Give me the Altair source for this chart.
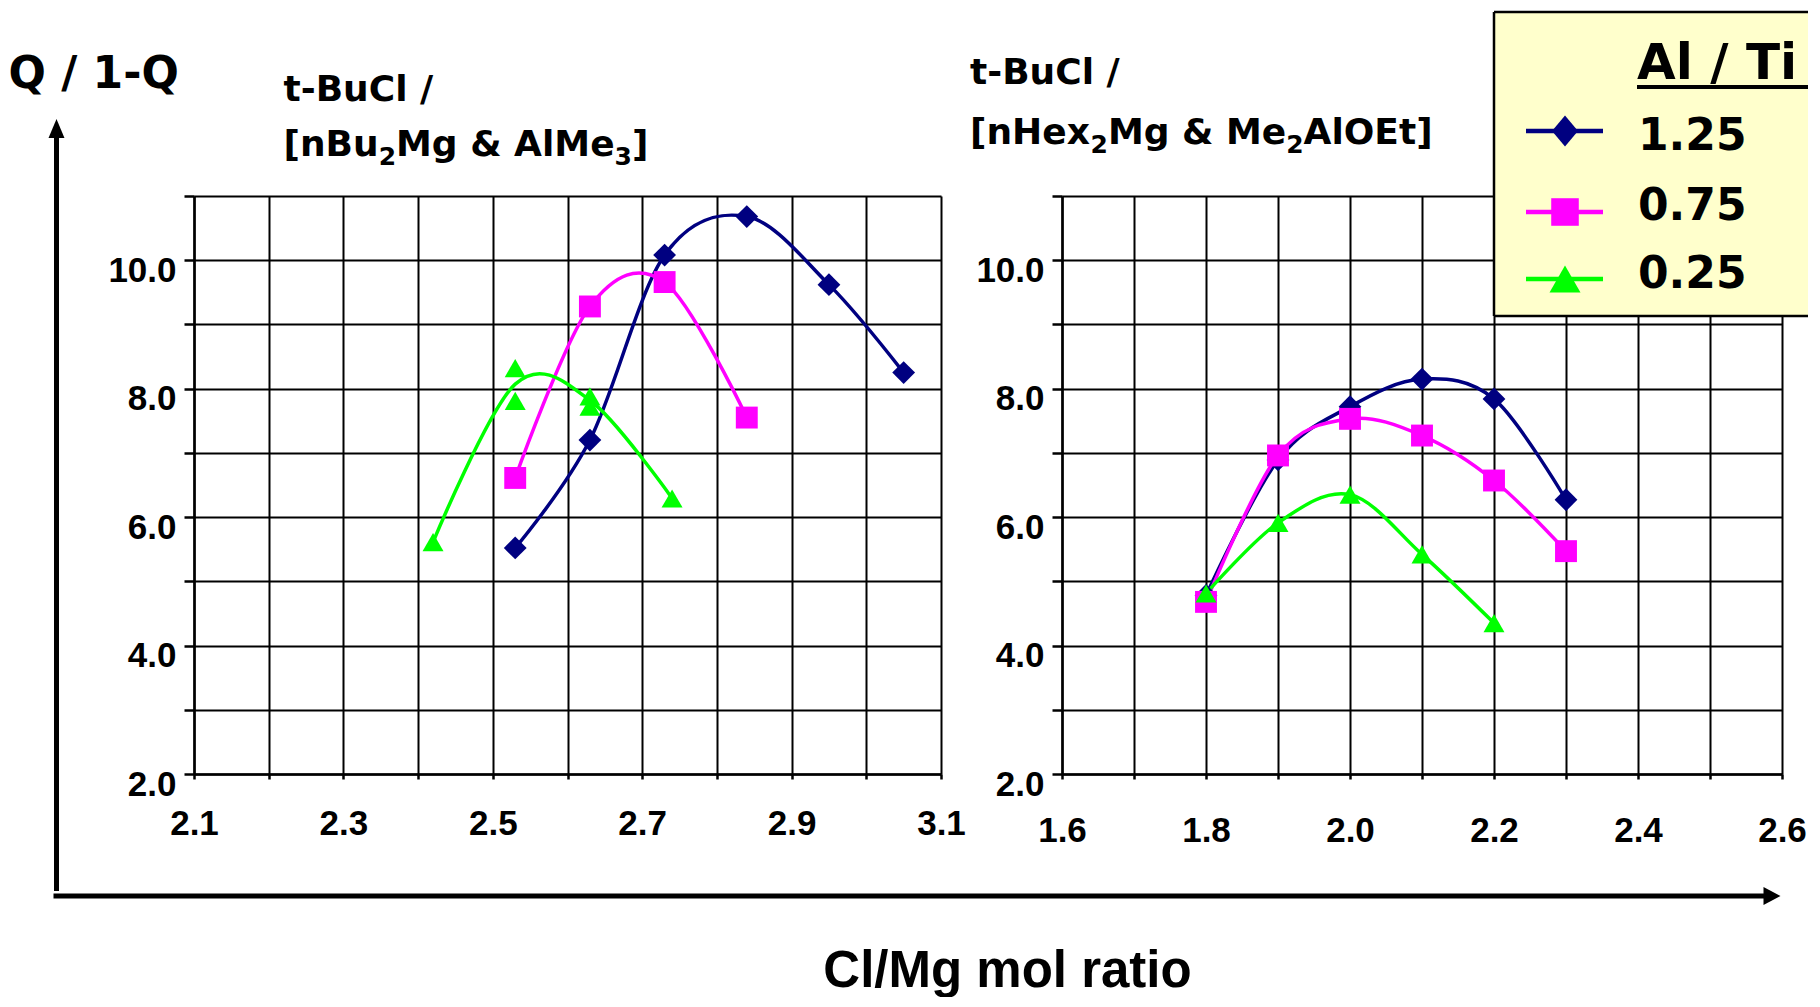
import altair as alt
import pandas as pd

# ---------------- data ----------------
series_names = ["1.25", "0.75", "0.25"]
series_colors = ["#000080", "#FF00FF", "#00FF00"]
series_shapes = ["diamond", "square", "triangle-up"]
series_sizes = [520, 440, 576]

# left panel: t-BuCl / [nBu2Mg & AlMe3]
left_x_125 = [2.53, 2.63, 2.73, 2.84, 2.95, 3.05]
left_y_125 = [5.52, 7.20, 10.08, 10.68, 9.62, 8.25]
left_x_075 = [2.53, 2.63, 2.73, 2.84]
left_y_075 = [6.61, 9.28, 9.66, 7.55]
left_x_025 = [2.42, 2.53, 2.53, 2.63, 2.63, 2.74]
left_y_025 = [5.61, 8.32, 7.81, 7.88, 7.72, 6.29]
# smoothed green curve of the left panel passes between the repeated points
left_line_x_025 = [2.42, 2.53, 2.63, 2.74]
left_line_y_025 = [5.61, 8.07, 7.82, 6.29]

# right panel: t-BuCl / [nHex2Mg & Me2AlOEt]
right_x_125 = [1.8, 1.9, 2.0, 2.1, 2.2, 2.3]
right_y_125 = [4.78, 6.89, 7.72, 8.15, 7.84, 6.27]
right_x_075 = [1.8, 1.9, 2.0, 2.1, 2.2, 2.3]
right_y_075 = [4.68, 6.96, 7.53, 7.27, 6.57, 5.47]
right_x_025 = [1.8, 1.9, 2.0, 2.1, 2.2]
right_y_025 = [4.81, 5.91, 6.35, 5.42, 4.35]

left_x_ticks = [2.1, 2.2, 2.3, 2.4, 2.5, 2.6, 2.7, 2.8, 2.9, 3.0, 3.1]
left_x_labels = ["2.1", "2.3", "2.5", "2.7", "2.9", "3.1"]
right_x_ticks = [1.6, 1.7, 1.8, 1.9, 2.0, 2.1, 2.2, 2.3, 2.4, 2.5, 2.6]
right_x_labels = ["1.6", "1.8", "2.0", "2.2", "2.4", "2.6"]
y_ticks = [2, 3, 4, 5, 6, 7, 8, 9, 10, 11]
y_labels = ["2.0", "4.0", "6.0", "8.0", "10.0"]

y_axis_title = "Q / 1-Q"
x_axis_title = "Cl/Mg mol ratio"
legend_title = "Al / Ti"
title_line1 = "t-BuCl /"
left_title_2 = [("[nBu", False), ("2", True), ("Mg & AlMe", False), ("3", True), ("]", False)]
right_title_2 = [("[nHex", False), ("2", True), ("Mg & Me", False), ("2", True), ("AlOEt]", False)]

# ---------------- layout constants (page pixels) ----------------
W_L, W_R, H = 747, 720, 578
OX_L, OX_R, OY = 193.5, 1062.0, 195.0
SPACING = 121
TITLE_FONT = "DejaVu Sans"
TICK_FONT = "Liberation Sans"

# DejaVu Sans Bold advance widths (em) for segment placement
DVB = {' ': 0.348, '[': 0.457, ']': 0.457, 'n': 0.712, 'H': 0.837, 'e': 0.678,
       'x': 0.663, '2': 0.696, '3': 0.696, 'M': 0.995, 'g': 0.716, '&': 0.872,
       'A': 0.774, 'l': 0.343, 'O': 0.850, 'E': 0.683, 't': 0.478, 'B': 0.762,
       'u': 0.712}


def tw(s, size):
    return sum(DVB.get(c, 0.6) for c in s) * size


def series_df(names, xs_list, ys_list):
    rows = []
    for name, xs, ys in zip(names, xs_list, ys_list):
        rows += [{"x": a, "y": b, "s": name} for a, b in zip(xs, ys)]
    return pd.DataFrame(rows)


one = pd.DataFrame({"a": [0]})


def text_layer(txt, px, py, ox, size, font=TITLE_FONT, align="left"):
    return alt.Chart(pd.DataFrame({"t": [txt]})).mark_text(
        align=align, baseline="alphabetic", font=font, fontSize=size,
        fontWeight="bold", color="black"
    ).encode(text="t:N", x=alt.value(px - ox), y=alt.value(py - OY))


def rule_layer(x1, y1, x2, y2, ox, width, color="black"):
    return alt.Chart(one).mark_rule(color=color, strokeWidth=width, strokeCap="butt").encode(
        x=alt.value(x1 - ox), x2=alt.value(x2 - ox),
        y=alt.value(y1 - OY), y2=alt.value(y2 - OY))


def symbol_layer(shape, size, color, px, py, ox):
    return alt.Chart(one).mark_point(
        shape=shape, size=size, filled=True, color=color, opacity=1, strokeWidth=0
    ).encode(x=alt.value(px - ox), y=alt.value(py - OY))


def title_layers(x0, base1, base2, ox, parts):
    size, subsize, subshift = 36, 25, 9
    layers = [text_layer(title_line1, x0, base1, ox, size)]
    x = x0
    for txt, sub in parts:
        s = subsize if sub else size
        layers.append(text_layer(txt, x, base2 + (subshift if sub else 0), ox, s))
        x += tw(txt, s)
    return layers


def label_expr(labels):
    arr = ",".join("'%s'" % l for l in labels)
    return "indexof([%s], format(datum.value, '.1f')) >= 0 ? format(datum.value, '.1f') : ''" % arr


color_enc = alt.Color("s:N", scale=alt.Scale(domain=series_names, range=series_colors), legend=None)
shape_enc = alt.Shape("s:N", scale=alt.Scale(domain=series_names, range=series_shapes), legend=None)
size_enc = alt.Size("s:N", scale=alt.Scale(domain=series_names, range=series_sizes), legend=None)


def panel(line_df, pt_df, xdom, xticks, xlabels, width, lab_pad_x, extra):
    x_enc = alt.X("x:Q", scale=alt.Scale(domain=xdom, nice=False, zero=False),
                  axis=alt.Axis(values=xticks, labelExpr=label_expr(xlabels), title="",
                                tickSize=5, labelPadding=lab_pad_x, labelFlush=False,
                                labelOverlap=False, grid=True))
    y_enc = alt.Y("y:Q", scale=alt.Scale(domain=[2, 11], nice=False, zero=False),
                  axis=alt.Axis(values=y_ticks, labelExpr=label_expr(y_labels), title="",
                                tickSize=10, labelPadding=8, labelOffset=10, labelFlush=False,
                                labelOverlap=False, grid=True))
    lines = alt.Chart(line_df).mark_line(interpolate="cardinal", strokeWidth=3.5).encode(
        x=x_enc, y=y_enc, color=color_enc, detail="s:N")
    pts = alt.Chart(pt_df).mark_point(filled=True, opacity=1, strokeWidth=0).encode(
        x="x:Q", y="y:Q", color=color_enc, shape=shape_enc, size=size_enc)
    return alt.layer(lines, pts, *extra).properties(width=width, height=H)


# ---------------- left panel ----------------
left_lines = series_df(series_names, [left_x_125, left_x_075, left_line_x_025],
                       [left_y_125, left_y_075, left_line_y_025])
left_pts = series_df(series_names, [left_x_125, left_x_075, left_x_025],
                     [left_y_125, left_y_075, left_y_025])

left_extra = []
# big axis arrows and axis texts
left_extra.append(rule_layer(56, 136, 56, 890, OX_L, 5))
left_extra.append(symbol_layer("M0,-1L0.84,1L-0.84,1Z", 361, "black", 56, 127.5, OX_L))
left_extra.append(rule_layer(53, 895, 1765, 895, OX_L, 5))
left_extra.append(symbol_layer("M1,0L-1,1.05L-1,-1.05Z", 289, "black", 1771.5, 895, OX_L))
left_extra.append(text_layer(y_axis_title, 8, 87, OX_L, 44))
left_extra.append(text_layer(x_axis_title, 1007, 986, OX_L, 51, font=TICK_FONT, align="center"))
left_extra += title_layers(283, 100, 155, OX_L, left_title_2)

left = panel(left_lines, left_pts, [2.1, 3.1], left_x_ticks, left_x_labels, W_L, 27, left_extra)

# ---------------- right panel ----------------
right_lines = series_df(series_names, [right_x_125, right_x_075, right_x_025],
                        [right_y_125, right_y_075, right_y_025])
right_pts = right_lines.copy()

right_extra = title_layers(970, 83, 143, OX_R, right_title_2)

# legend box
right_extra.append(alt.Chart(one).mark_rect(color="#FFFFCC", opacity=1).encode(
    x=alt.value(1494 - OX_R), x2=alt.value(1808 - OX_R),
    y=alt.value(11 - OY), y2=alt.value(315 - OY)))
right_extra.append(rule_layer(1494, 11, 1808, 11, OX_R, 2.5))
right_extra.append(rule_layer(1494, 315, 1808, 315, OX_R, 2.5))
right_extra.append(rule_layer(1494, 11, 1494, 315, OX_R, 2.5))
right_extra.append(text_layer(legend_title, 1637, 78, OX_R, 50))
right_extra.append(rule_layer(1637, 86, 1808, 86, OX_R, 4))
legend_rows_y = [130, 211, 278]
legend_text_y = [149, 219, 287]
legend_marker_shapes = ["M0,-1.2L1,0L0,1.2L-1,0Z", "square", "triangle-up"]
legend_marker_sizes = [676, 760, 961]
for name, col, shp, sz, ly, ty in zip(series_names, series_colors, legend_marker_shapes,
                                      legend_marker_sizes, legend_rows_y, legend_text_y):
    right_extra.append(rule_layer(1526, ly, 1603, ly, OX_R, 4.5, color=col))
    right_extra.append(symbol_layer(shp, sz, col, 1565, ly, OX_R))
    right_extra.append(text_layer(name, 1638, ty, OX_R, 44))

right = panel(right_lines, right_pts, [1.6, 2.6], right_x_ticks, right_x_labels, W_R, 34, right_extra)

chart = alt.hconcat(left, right, spacing=SPACING, bounds="flush").properties(
    padding={"left": 0, "top": 2, "right": 0, "bottom": 0}
).configure_view(stroke=None).configure_axis(
    labelColor="black", labelFont=TICK_FONT, labelFontSize=35, labelFontWeight="bold",
    domainColor="black", domainWidth=2.5, tickColor="black", tickWidth=2.5,
    gridColor="black", gridOpacity=1, gridWidth=2
)

chart.save("out.html", embed_options={"renderer": "svg", "actions": False})
